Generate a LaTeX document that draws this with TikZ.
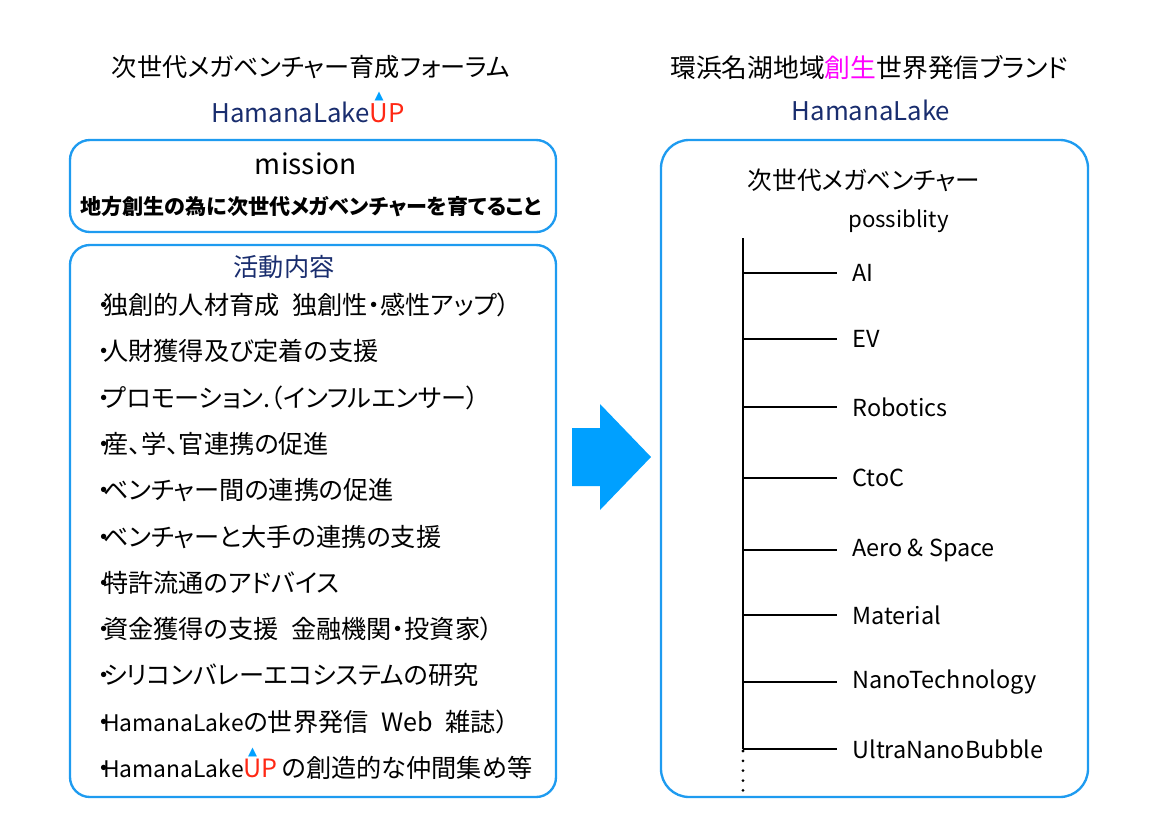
\documentclass[tikz,border=0pt]{standalone}
\usepackage{fontspec}
\setmainfont{Noto Sans CJK JP}[RawFeature=+palt]
\newfontfamily\symfont{DejaVu Sans}
\definecolor{boxblue}{RGB}{30,155,240}
\definecolor{arrowblue}{RGB}{0,160,255}
\definecolor{navy}{RGB}{25,45,110}
\definecolor{upred}{RGB}{255,40,20}
\definecolor{sousei}{RGB}{255,0,255}
% U with the small triangle above it
\newcommand{\upword}{\textcolor{upred}{\ooalign{U\cr\hidewidth\raisebox{0.88em}{\symfont\fontsize{10}{10}\selectfont\textcolor{arrowblue}{▲}}\hidewidth\cr}P}}
\newcommand{\lakeword}{{\fontsize{19.5}{24}\selectfont HamanaLake}}
\newcommand{\gap}{\hspace{0.5em}}
\newcommand{\bul}{・\kern-0.3em}
\tikzset{
	panel/.style={draw=boxblue, line width=2pt, rounded corners=17pt},
	heading/.style={inner sep=0pt, font=\fontsize{21.5}{24}\selectfont},
	brand/.style={inner sep=0pt, text=navy, font=\fontsize{22}{26}\selectfont},
	item/.style={anchor=west, inner sep=0pt, font=\fontsize{21.5}{24}\selectfont},
	tree/.style={line width=1.6pt},
	leaf/.style={anchor=west, inner xsep=13pt, inner ysep=0pt, font=\fontsize{20}{24}\selectfont}
}
\begin{document}
\begin{tikzpicture}[x=0.03cm, y=-0.03cm]
	\useasboundingbox (0,0) rectangle (1169,826);

	% left side
	\node[heading] (ltitle) at (311,67) {次世代メガベンチャー育成フォーラム};
	\node[brand] (lbrand) at (308,112) {HamanaLake\upword};

	\draw[panel] (70,140) rectangle (556,232);
	\node[inner sep=0pt, font=\fontsize{24}{28}\selectfont] (mission) at (306,164) {mission};
	\node[inner sep=0pt, font=\bfseries\fontsize{18}{22}\selectfont] (goal) at (311,207) {地方創生の為に次世代メガベンチャーを育てること};

	\draw[panel] (70,245) rectangle (556,797);
	\node[heading, text=navy, font=\fontsize{21.5}{24}\selectfont] (acttitle) at (284,267) {活動内容};
	\foreach \y/\txt [count=\i] in {
		305/{\bul 独創的人材育成\gap 独創性・感性アップ）},
		351/{\bul 人財獲得及び定着の支援},
		398/{\bul プロモーション.（インフルエンサー）},
		444/{\bul 産、学、官連携の促進},
		490/{\bul ベンチャー間の連携の促進},
		537/{\bul ベンチャーと大手の連携の支援},
		583/{\bul 特許流通のアドバイス},
		629/{\bul 資金獲得の支援\gap 金融機関・投資家）},
		675/{\bul シリコンバレーエコシステムの研究},
		722/{\bul \lakeword の世界発信\gap Web\gap 雑誌）},
		768/{\bul \lakeword\upword\,の創造的な仲間集め等}}
	\node[item] (act\i) at (98,\y) {\txt};

	% arrow
	\fill[arrowblue] (572,428) -- (600,428) -- (600,404) -- (651,457)
		-- (600,510) -- (600,486) -- (572,486) -- cycle;

	% right side
	\node[heading, font=\fontsize{22}{24}\selectfont] (rtitle) at (869,68) {環浜名湖地域\textcolor{sousei}{創生}世界発信ブランド};
	\node[brand] (rbrand) at (871,110) {HamanaLake};

	\draw[panel, rounded corners=24pt] (661,140) rectangle (1088,797);
	\node[heading, font=\fontsize{21}{24}\selectfont] (mega) at (864,180) {次世代メガベンチャー};
	\node[anchor=west, inner sep=0pt, font=\fontsize{19}{24}\selectfont] (possib) at (848,221) {possiblity};

	\coordinate (ttop) at (743,238);
	\coordinate (tbot) at (743,749);
	\draw[tree] (ttop) -- (tbot);
	\draw[line width=2.6pt, line cap=round, dash pattern=on 0pt off 8.4pt] (tbot) ++(0,2) -- ++(0,40);

	\foreach \y/\txt [count=\i] in {273/AI, 339/EV, 407/Robotics, 478/CtoC,
		550/{Aero \& Space}, 615/Material, 682/NanoTechnology, 749/UltraNanoBubble}
	{
		\coordinate (br\i) at (743,\y);
		\node[leaf] (leaf\i) at (837,\y) {\txt};
		\draw[tree] (br\i) -- (leaf\i.west);
	}
\end{tikzpicture}
\end{document}
